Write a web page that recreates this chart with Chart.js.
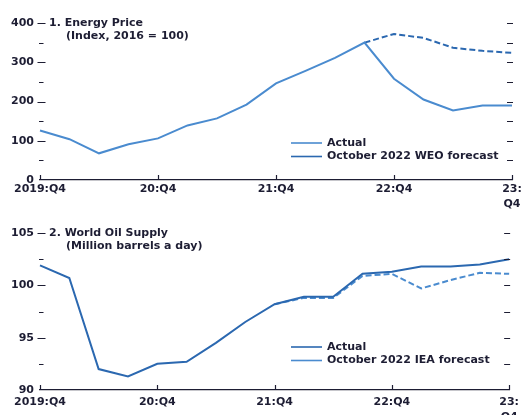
<!DOCTYPE html>
<html>
<head>
<meta charset="utf-8">
<script src="https://cdn.jsdelivr.net/npm/chart.js@4/dist/chart.umd.min.js"></script>
<style>
  body { margin: 0; background: #fff; }
  #wrap { position: relative; width: 523px; height: 415px; overflow: hidden; }
  #energyChart { position: absolute; left: 0; top: 0; }
  #oilChart { position: absolute; left: 0; top: 200px; }
</style>
</head>
<body>
<div id="wrap">
  <canvas id="energyChart" width="523" height="212"></canvas>
  <canvas id="oilChart" width="523" height="215"></canvas>
</div>
<script>
// quarters from 2019:Q4 to 2023:Q4
const quarters = ['2019:Q4', '2020:Q1', '2020:Q2', '2020:Q3', '2020:Q4', '2021:Q1', '2021:Q2', '2021:Q3',
  '2021:Q4', '2022:Q1', '2022:Q2', '2022:Q3', '2022:Q4', '2023:Q1', '2023:Q2', '2023:Q3', '2023:Q4']
const xTickLabels = ['2019:Q4', '20:Q4', '21:Q4', '22:Q4', ['23:', 'Q4']]

// 1. energy price index (2016 = 100)
const energyActual = [126, 104, 68, 91, 106, 139, 157, 192, 246, 278, 311, 350, 258, 205, 177, 190, 190]
const energyForecast = [null, null, null, null, null, null, null, null, null, null, null, 350, 372, 362, 337, 329, 324]

// 2. world oil supply (million barrels a day)
const oilActual = [101.9, 100.7, 92.0, 91.3, 92.5, 92.7, 94.5, 96.5, 98.2, 98.9, 98.9, 101.1, 101.3, 101.8, 101.8, 102.0, 102.5]
const oilForecast = [null, null, null, null, null, null, null, null, 98.2, 98.8, 98.8, 100.9, 101.1, 99.7, 100.5, 101.2, 101.1]

const lightBlue = '#4a8bcf'
const darkBlue = '#2b68b0'
const ink = '#1d1d33'
const boldFont = { family: 'DejaVu Sans', size: 11, weight: 'bold' }

// tick marks, titles and legend drawn on top of the chart
const decorations = {
  id: 'decorations',
  afterDraw(chart, args, opts) {
    const ctx = chart.ctx
    const area = chart.chartArea
    const y = chart.scales.y
    const x = chart.scales.x
    ctx.save()
    ctx.strokeStyle = ink
    ctx.lineWidth = 1.2
    y.ticks.forEach(t => {
      const py = Math.round(y.getPixelForValue(t.value)) + 0.5
      const major = t.label !== ''
      ctx.beginPath()
      if (t.value !== y.min) {
        ctx.moveTo(area.left + (major ? -2.5 : -1), py)
        ctx.lineTo(area.left + (major ? 5.5 : 3.5), py)
        ctx.moveTo(area.right - 5, py)
        ctx.lineTo(area.right + 1, py)
      }
      ctx.stroke()
    })
    x.ticks.forEach((t, i) => {
      if (i % 4 !== 0) return
      const px = Math.round(x.getPixelForValue(i)) + 0.5
      ctx.beginPath()
      ctx.moveTo(px, area.bottom)
      ctx.lineTo(px, area.bottom - 5)
      ctx.stroke()
    })

    ctx.fillStyle = ink
    ctx.font = 'bold 11px "DejaVu Sans"'
    ctx.textBaseline = 'middle'
    ctx.textAlign = 'left'
    const ty = y.getPixelForValue(y.max)
    ctx.fillText(opts.title, area.left + 9, ty)
    ctx.fillText(opts.subtitle, area.left + 26, ty + 13.5)

    opts.legend.forEach((item, i) => {
      const ly = opts.legendTop + i * 13.5
      ctx.strokeStyle = item.color
      ctx.lineWidth = 1.6
      ctx.beginPath()
      ctx.moveTo(291, ly)
      ctx.lineTo(322, ly)
      ctx.stroke()
      ctx.fillText(item.text, 327, ly)
    })
    ctx.restore()
  }
}

function makeChart(id, cfg) {
  const ctx = document.getElementById(id).getContext('2d')
  return new Chart(ctx, {
    type: 'line',
    data: {
      labels: quarters,
      datasets: [{
        label: cfg.names[0],
        data: cfg.actual,
        borderColor: cfg.colors[0],
        borderWidth: 2,
        pointRadius: 0,
        tension: 0
      }, {
        label: cfg.names[1],
        data: cfg.forecast,
        borderColor: cfg.colors[1],
        borderWidth: 2,
        borderDash: [6, 3],
        pointRadius: 0,
        tension: 0,
        spanGaps: false
      }]
    },
    options: {
      responsive: false,
      animation: false,
      layout: { padding: { top: cfg.padTop, right: 11, left: 0, bottom: 0 } },
      plugins: {
        legend: { display: false },
        tooltip: { enabled: false },
        decorations: {
          title: cfg.title,
          subtitle: cfg.subtitle,
          legendTop: cfg.legendTop,
          legend: [
            { text: cfg.names[0], color: cfg.colors[0] },
            { text: cfg.names[1], color: cfg.colors[1] }
          ]
        }
      },
      scales: {
        x: {
          grid: { drawOnChartArea: false, drawTicks: false },
          border: { display: true, color: ink, width: 1.3 },
          ticks: {
            autoSkip: false,
            maxRotation: 0,
            padding: cfg.xPad,
            color: ink,
            font: { ...boldFont, lineHeight: 1.4 },
            callback: (v, i) => i % 4 === 0 ? xTickLabels[i / 4] : ''
          },
          afterFit: s => { s.height = cfg.xHeight }
        },
        y: {
          min: cfg.min,
          max: cfg.max,
          grid: { display: false, drawTicks: false },
          border: { display: false },
          ticks: {
            stepSize: cfg.step,
            padding: 6,
            color: ink,
            font: boldFont,
            callback: v => v % cfg.labelEvery === 0 ? v : ''
          },
          afterFit: s => { s.width = 40 }
        }
      }
    },
    plugins: [decorations]
  })
}

makeChart('energyChart', {
  actual: energyActual,
  forecast: energyForecast,
  names: ['Actual', 'October 2022 WEO forecast'],
  colors: [lightBlue, darkBlue],
  title: '1. Energy Price',
  subtitle: '(Index, 2016 = 100)',
  min: 0, max: 400, step: 50, labelEvery: 100,
  padTop: 23, xHeight: 32, xPad: 1, legendTop: 143
})

makeChart('oilChart', {
  actual: oilActual,
  forecast: oilForecast,
  names: ['Actual', 'October 2022 IEA forecast'],
  colors: [darkBlue, lightBlue],
  title: '2. World Oil Supply',
  subtitle: '(Million barrels a day)',
  min: 90, max: 105, step: 2.5, labelEvery: 5,
  padTop: 33, xHeight: 25, xPad: 4, legendTop: 147
})
</script>
</body>
</html>
